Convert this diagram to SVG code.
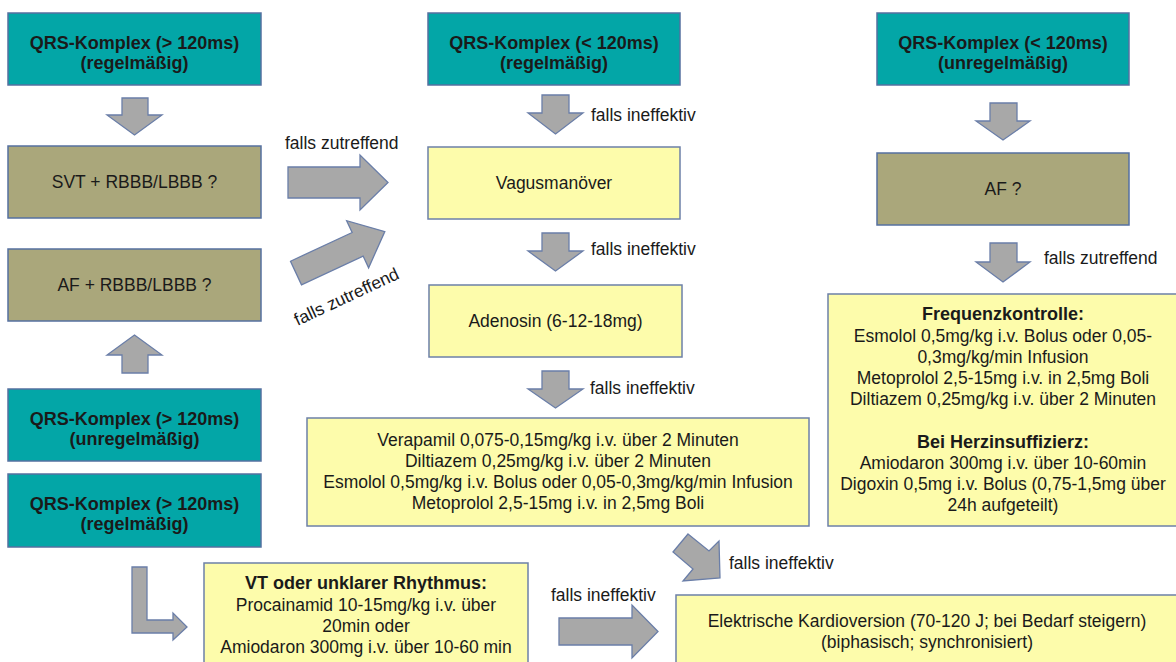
<svg xmlns="http://www.w3.org/2000/svg" width="1176" height="662" viewBox="0 0 1176 662">
<style>
text{font-family:"Liberation Sans",Arial,sans-serif;font-size:17.5px;fill:#1a1a1a;text-anchor:middle}
.b{font-weight:bold;font-size:18px}
.lbl{text-anchor:start}
.teal{fill:#03A6A7;stroke:#5570A0;stroke-width:1.5}
.olive{fill:#AAA77B;stroke:#5570A0;stroke-width:1.5}
.yel{fill:#FDFCAB;stroke:#6C80A8;stroke-width:1.5}
.arr{fill:#A8A8A8;stroke:#6A7EA8;stroke-width:1.3;stroke-linejoin:miter}
</style>
<rect width="1176" height="662" fill="#ffffff"/>

<g id="connectors">
  <!-- down arrows -->
  <path class="arr" d="M122,98 H148 V115 H162 L134.5,135 L107,115 H122 Z"/>
  <path class="arr" d="M542,95 H569 V113 H583 L555.5,134 L528,113 H542 Z"/>
  <path class="arr" d="M542,233 H569 V251 H583 L555.5,271 L528,251 H542 Z"/>
  <path class="arr" d="M542,371 H569 V389 H583 L555.5,408 L528,389 H542 Z"/>
  <path class="arr" d="M990,103 H1017 V121 H1030 L1003,140 L976,121 H990 Z"/>
  <path class="arr" d="M990,243 H1017 V262 H1030 L1003,282 L976,262 H990 Z"/>
  <!-- up arrow -->
  <path class="arr" d="M122,373 H148 V355 H162 L134.5,335 L107,355 H122 Z"/>
  <!-- right arrows -->
  <path class="arr" d="M288,167 H360 V155 L388,182.5 L360,210 V198 H288 Z"/>
  <path class="arr" d="M559,618 H632 V605 L658,631.5 L632,658 V645 H559 Z"/>
  <!-- diagonal up-right -->
  <path class="arr" transform="translate(296,273) rotate(-25)" d="M0,-13 H68 V-26 L98,0 L68,26 V13 H0 Z"/>
  <!-- diagonal down-right -->
  <path class="arr" d="M688,534 L709,551 L719,541 L720,578 L683,581 L693,569 L673,552 Z"/>
  <!-- L arrow -->
  <path class="arr" d="M132,567 H147 V620 H173 V613 L187,627 L173,640 V633 H132 Z"/>
  <!-- labels -->
  <text class="lbl" x="285" y="149">falls zutreffend</text>
  <text transform="translate(349,302) rotate(-25)">falls zutreffend</text>
  <text class="lbl" x="591" y="121">falls ineffektiv</text>
  <text class="lbl" x="591" y="255">falls ineffektiv</text>
  <text class="lbl" x="590" y="394">falls ineffektiv</text>
  <text class="lbl" x="1044" y="264">falls zutreffend</text>
  <text class="lbl" x="729" y="569">falls ineffektiv</text>
  <text class="lbl" x="551" y="601">falls ineffektiv</text>
</g>

<g id="qrs-wide-regular-top">
  <rect class="teal" x="8" y="13" width="253" height="72"/>
  <text class="b" x="134.5" y="49">QRS-Komplex (&gt; 120ms)</text>
  <text class="b" x="134.5" y="69">(regelmäßig)</text>
</g>
<g id="svt-bbb">
  <rect class="olive" x="8" y="146" width="253" height="72"/>
  <text x="134.5" y="188">SVT + RBBB/LBBB ?</text>
</g>
<g id="af-bbb">
  <rect class="olive" x="8" y="249" width="253" height="72"/>
  <text x="134.5" y="291">AF + RBBB/LBBB ?</text>
</g>
<g id="qrs-wide-irregular">
  <rect class="teal" x="8" y="389" width="253" height="72"/>
  <text class="b" x="134.5" y="425">QRS-Komplex (&gt; 120ms)</text>
  <text class="b" x="134.5" y="445">(unregelmäßig)</text>
</g>
<g id="qrs-wide-regular-bottom">
  <rect class="teal" x="8" y="474" width="253" height="73"/>
  <text class="b" x="134.5" y="510">QRS-Komplex (&gt; 120ms)</text>
  <text class="b" x="134.5" y="530">(regelmäßig)</text>
</g>

<g id="qrs-narrow-regular">
  <rect class="teal" x="428" y="13" width="252" height="72"/>
  <text class="b" x="554" y="49">QRS-Komplex (&lt; 120ms)</text>
  <text class="b" x="554" y="69">(regelmäßig)</text>
</g>
<g id="vagus">
  <rect class="yel" x="428" y="147" width="252" height="72"/>
  <text x="554" y="189">Vagusmanöver</text>
</g>
<g id="adenosin">
  <rect class="yel" x="429" y="285" width="253" height="72"/>
  <text x="555.5" y="327">Adenosin (6-12-18mg)</text>
</g>
<g id="drugs">
  <rect class="yel" x="307" y="418" width="502" height="108"/>
  <text x="558" y="446">Verapamil 0,075-0,15mg/kg i.v. über 2 Minuten</text>
  <text x="558" y="467">Diltiazem 0,25mg/kg i.v. über 2 Minuten</text>
  <text x="558" y="488">Esmolol 0,5mg/kg i.v. Bolus oder 0,05-0,3mg/kg/min Infusion</text>
  <text x="558" y="509">Metoprolol 2,5-15mg i.v. in 2,5mg Boli</text>
</g>

<g id="qrs-narrow-irregular">
  <rect class="teal" x="877" y="13" width="252" height="72"/>
  <text class="b" x="1003" y="49">QRS-Komplex (&lt; 120ms)</text>
  <text class="b" x="1003" y="69">(unregelmäßig)</text>
</g>
<g id="af">
  <rect class="olive" x="877" y="153" width="252" height="72"/>
  <text x="1003" y="195">AF ?</text>
</g>
<g id="frequenz">
  <rect class="yel" x="828" y="294" width="360" height="232"/>
  <text class="b" x="1003" y="320">Frequenzkontrolle:</text>
  <text x="1003" y="342">Esmolol 0,5mg/kg i.v. Bolus oder 0,05-</text>
  <text x="1003" y="363">0,3mg/kg/min Infusion</text>
  <text x="1003" y="384">Metoprolol 2,5-15mg i.v. in 2,5mg Boli</text>
  <text x="1003" y="405">Diltiazem 0,25mg/kg i.v. über 2 Minuten</text>
  <text class="b" x="1003" y="448">Bei Herzinsuffizierz:</text>
  <text x="1003" y="469">Amiodaron 300mg i.v. über 10-60min</text>
  <text x="1003" y="490">Digoxin 0,5mg i.v. Bolus (0,75-1,5mg über</text>
  <text x="1003" y="511">24h aufgeteilt)</text>
</g>

<g id="vt">
  <rect class="yel" x="204" y="563" width="324" height="110"/>
  <text class="b" x="366" y="589">VT oder unklarer Rhythmus:</text>
  <text x="366" y="611">Procainamid 10-15mg/kg i.v. über</text>
  <text x="366" y="632">20min oder</text>
  <text x="366" y="653">Amiodaron 300mg i.v. über 10-60 min</text>
</g>
<g id="kardioversion">
  <rect class="yel" x="676" y="595" width="510" height="80"/>
  <text x="927" y="627">Elektrische Kardioversion (70-120 J; bei Bedarf steigern)</text>
  <text x="927" y="648">(biphasisch; synchronisiert)</text>
</g>
</svg>
